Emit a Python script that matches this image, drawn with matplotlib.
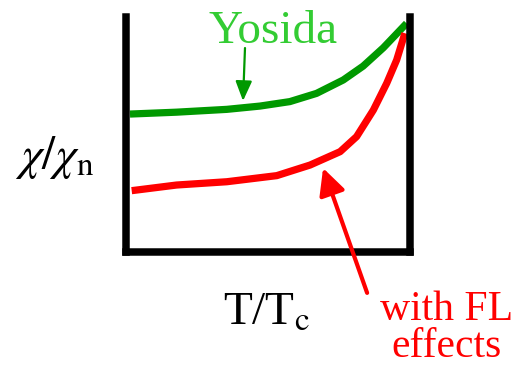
import matplotlib.pyplot as plt

# valores (ejes en unidades arbitrarias 0..1)
t_yosida = [0.014, 0.178, 0.355, 0.472, 0.577, 0.671, 0.765, 0.835, 0.906, 0.988]
chi_yosida = [0.587, 0.595, 0.607, 0.621, 0.640, 0.675, 0.732, 0.791, 0.869, 0.973]

t_fl = [0.020, 0.178, 0.355, 0.531, 0.648, 0.754, 0.812, 0.871, 0.918, 0.953, 0.982]
chi_fl = [0.261, 0.285, 0.299, 0.325, 0.370, 0.427, 0.491, 0.604, 0.718, 0.817, 0.931]

label_yosida = 'Yosida'
label_fl = 'with FL\neffects'
xlabel = 'T/T$_\\mathrm{c}$'
ylabel = '$\\chi/\\chi_\\mathrm{n}$'

plt.rcParams['font.family'] = 'Liberation Serif'
plt.rcParams['mathtext.fontset'] = 'stix'

fig = plt.figure(figsize=(5.2, 3.65), dpi=100)
ax = fig.add_axes([126 / 520, (365 - 252) / 365, 284 / 520, 235 / 365])
ax.set_xlim(0, 1)
ax.set_ylim(0, 1)
ax.set_xticks([])
ax.set_yticks([])
ax.spines['top'].set_visible(False)
for lado in ['left', 'right', 'bottom']:
    ax.spines[lado].set_linewidth(5.4)
    ax.spines[lado].set_capstyle('projecting')

ax.plot(t_yosida, chi_yosida, color='#009900', linewidth=5.2,
        solid_capstyle='butt', solid_joinstyle='round')
ax.plot(t_fl, chi_fl, color='#ff0000', linewidth=5.2,
        solid_capstyle='butt', solid_joinstyle='round')

# etiquetas
ax.text(0.518, 0.889, label_yosida, color='#33cc33', fontsize=34, ha='center', va='baseline', clip_on=False)
ax.text(1.127, -0.165, label_fl, color='#ff0000', fontsize=30, ha='center', va='top',
        multialignment='center', linespacing=0.93, clip_on=False)
ax.text(0.342, -0.311, xlabel, fontsize=34, ha='left', va='baseline', clip_on=False)
ax.text(-0.391, 0.40, ylabel, fontsize=34, ha='left', va='center', clip_on=False)

# flechas
ax.annotate('', xy=(0.412, 0.643), xytext=(0.419, 0.868), annotation_clip=False,
            arrowprops=dict(arrowstyle='-|>,head_length=0.6,head_width=0.25', color='#009900',
                            lw=1.6, mutation_scale=20, shrinkA=0, shrinkB=0))
ax.annotate('', xy=(0.694, 0.357), xytext=(0.849, -0.174), annotation_clip=False,
            arrowprops=dict(arrowstyle='-|>,head_length=0.8,head_width=0.4', color='#ff0000',
                            lw=3, mutation_scale=20, shrinkA=0, shrinkB=0))

plt.savefig('out.png', dpi=100)
plt.close()
